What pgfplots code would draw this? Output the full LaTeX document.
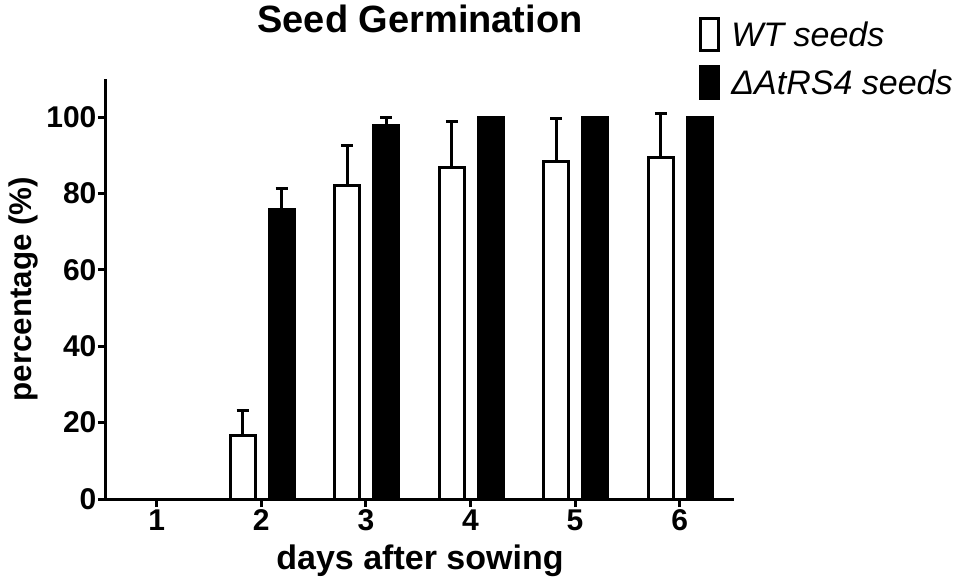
\documentclass[border=0pt]{standalone}
\usepackage{fontspec}
\setmainfont{Liberation Sans}
\usepackage{pgfplots}
\pgfplotsset{compat=1.18}
\begin{document}
\begin{tikzpicture}
\useasboundingbox (-79.5pt,-66pt) rectangle (640.5pt,374.25pt);
\begin{axis}[
  at={(0pt,0pt)}, anchor=south west,
  scale only axis, width=471pt, height=315pt,
  xmin=0.515, xmax=6.52, ymin=0, ymax=110,
  ybar, bar width=0.24,
  axis x line=bottom, axis y line=left,
  axis line style={-, line width=2.25pt, black},
  xtick={1,2,3,4,5,6}, ytick={0,20,40,60,80,100},
  tick align=outside, major tick length=6pt,
  tick style={line width=2.25pt, black},
  /pgf/number format/assume math mode=true,
  ticklabel style={font=\bfseries\fontsize{22.5}{22.5}\selectfont},
  yticklabel style={inner sep=1pt},
  xticklabel style={inner sep=2pt},
  title={Seed Germination},
  title style={font=\bfseries\fontsize{28.5}{28.5}\selectfont, at={(axis description cs:0.5,1.0905)}, anchor=base, inner sep=0pt},
  xlabel={days after sowing},
  xlabel style={font=\bfseries\fontsize{25.5}{25.5}\selectfont, at={(axis description cs:0.5,-0.169)}, anchor=base, inner sep=0pt},
  ylabel={percentage (\%)},
  ylabel style={font=\bfseries\fontsize{23.5}{23.5}\selectfont, at={(axis description cs:-0.1186,0.5)}, anchor=base, inner sep=0pt},
  legend style={draw=none, fill=none, at={(axis description cs:0.9443,1.1476)}, anchor=north west,
    inner sep=0pt, outer sep=0pt, row sep=9.75pt, column sep=8.5pt,
    font=\itshape\fontsize{25.5}{25.5}\selectfont,
    nodes={inner sep=0pt, text height=18pt, text depth=0pt}},
  legend cell align=left,
  legend image code/.code={\draw[line width=2.25pt,#1] (0pt,-12pt) rectangle (13.5pt,12pt);},
]
\addplot[bar shift=-14pt, draw=black, fill=white, line width=2.25pt,
  error bars/.cd, y dir=plus, y explicit,
  error bar style={line width=2.25pt, black},
  error mark options={rotate=90, line width=2.25pt, mark size=4.5pt, black}]
  coordinates {
    (2,16.7) +- (0,6.6)
    (3,82.2) +- (0,10.3)
    (4,86.8) +- (0,12.1)
    (5,88.5) +- (0,11.2)
    (6,89.4) +- (0,11.6)
  };
\addlegendentry{WT seeds}
\addplot[bar shift=15.3pt, draw=black, fill=black, line width=2.25pt,
  error bars/.cd, y dir=plus, y explicit,
  error bar style={line width=2.25pt, black},
  error mark options={rotate=90, line width=2.25pt, mark size=4.5pt, black}]
  coordinates {
    (2,75.9) +- (0,5.4)
    (3,97.9) +- (0,1.9)
    (4,100) +- (0,0)
    (5,100) +- (0,0)
    (6,100) +- (0,0)
  };
\addlegendentry{ΔAtRS4 seeds}
\end{axis}
\end{tikzpicture}
\end{document}
